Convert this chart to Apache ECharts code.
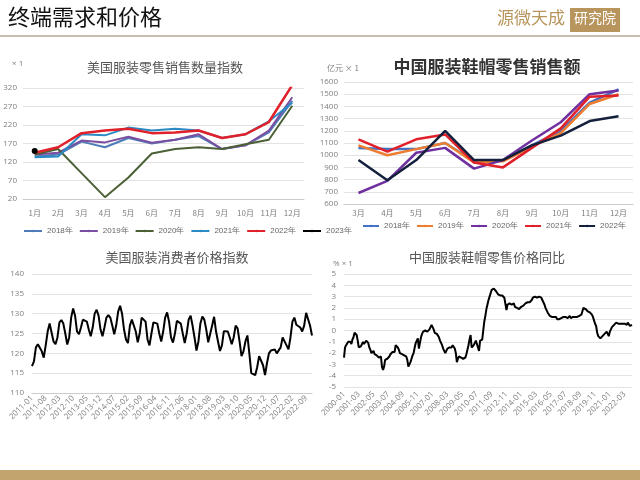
<!DOCTYPE html>
<html><head><meta charset="utf-8">
<script src="https://cdn.jsdelivr.net/npm/echarts@6/dist/echarts.min.js"></script>
<style>html,body{margin:0;padding:0;background:#fff}#c{width:640px;height:480px}</style>
</head><body><div id="c"></div>
<script>
// Top-left: US apparel retail volume index
const usMonths = ['1月','2月','3月','4月','5月','6月','7月','8月','9月','10月','11月','12月'];
const us2018 = [135,140,175,160,185,170,180,190,155,165,200,285];
const us2019 = [140,145,178,173,188,172,180,195,155,165,205,295];
const us2020 = [140,155,90,25,78,143,155,160,155,168,180,272];
const us2021 = [133,135,195,192,213,205,210,205,185,195,230,280];
const us2022 = [145,160,198,205,210,198,200,205,185,195,228,328];
const us2023 = [150];
// Top-right: China apparel retail sales
const cnMonths = ['3月','4月','5月','6月','7月','8月','9月','10月','11月','12月'];
const cn2018 = [1060,1050,1050,1100,950,960,1080,1200,1430,1540];
const cn2019 = [1080,1000,1050,1100,940,950,1070,1180,1420,1500];
const cn2020 = [690,790,1020,1060,890,960,1120,1270,1500,1530];
const cn2021 = [1130,1030,1130,1170,940,900,1060,1220,1480,1490];
const cn2022 = [960,795,960,1200,960,960,1080,1160,1280,1320];
// Bottom-left: US apparel CPI, monthly 2011-01..2022-12
const cpi = [
116.8,118,121.5,122.3,122,120.5,118.9,122,125.5,127.5,127.2,123,
122.3,124,127.8,128.4,127.5,125,122.2,124,129,131.3,129.5,125.5,
124.8,126.5,128.5,128.9,128,126,124.3,126.5,130,131,129.5,126,
124.3,126.5,129,129.6,129,127,124.8,127,130.5,132,130,126,
123.5,122.6,127,128.5,128,125.5,122.8,125,129,129.5,128,123.5,
122,125,127.8,128,127.5,125,123,125.5,129,130.3,128,124,
122.7,125,128.2,128.4,127.5,125,122.6,125,128.5,129.5,127,124,
120.7,123,127.5,129.3,128.5,126,122.8,122.5,127,129.2,125.5,123,
120.6,122,125.6,125.8,125.5,124,122.3,124,127,126.3,123,119.3,
120.5,123,124.5,120,115,114.6,114.5,116.5,119.3,119.3,117,114.5,
117.5,120,120.7,120.8,121,120,119.5,121.5,124,124.3,122,121,
124,128,129,127.2,127,126.5,125.5,127,130.2,129.7,127,124.5];
// Bottom-right: China apparel price YoY, monthly 2000-01..2022-10
const yoy = [
-2.4,-1.5,-1.3,-1.2,-1.0,-1.0,-1.0,-1.2,-0.8,-0.6,-0.2,-0.1,
-0.4,-0.9,-1.5,-1.6,-1.4,-1.2,-1.0,-1.2,-1.3,-0.9,-1.0,-1.1,
-1.5,-1.7,-2.0,-1.9,-1.8,-2.1,-2.1,-2.2,-2.3,-2.4,-2.5,-2.3,
-3.2,-3.5,-3.2,-2.6,-2.6,-2.5,-2.4,-2.3,-2.1,-2.0,-1.9,-1.8,
-1.9,-1.3,-1.4,-1.5,-1.7,-2.0,-2.1,-2.1,-2.2,-2.2,-2.3,-2.3,
-2.6,-3.2,-3.0,-2.8,-2.5,-2.2,-2.0,-1.5,-1.1,-0.9,-0.7,-1.6,
-1.1,-0.6,-0.3,-0.1,0.0,0.0,0.0,-0.1,0.0,0.1,0.3,0.5,
0.3,0.1,-0.2,-0.2,-0.3,-0.3,-0.6,-0.9,-1.1,-1.3,-1.6,-1.8,
-2.0,-1.8,-1.6,-1.5,-1.5,-1.6,-1.5,-1.3,-1.4,-1.6,-2.0,-2.8,
-2.5,-2.3,-2.4,-2.4,-2.4,-2.5,-2.6,-2.4,-2.1,-1.7,-1.3,-0.8,
-0.4,-1.5,-1.4,-1.3,-1.1,-0.9,-1.2,-1.5,-1.8,-0.9,-0.8,-0.8,
0.0,0.8,1.3,1.9,2.3,2.7,3.0,3.3,3.6,3.5,3.7,3.6,
3.5,3.4,3.2,3.3,3.1,3.0,3.1,3.0,2.9,2.9,1.8,2.3,
2.2,2.4,2.5,2.3,2.2,2.4,2.1,2.2,2.0,2.1,1.9,1.9,
2.1,2.2,2.2,2.3,2.4,2.4,2.5,2.6,2.5,2.6,2.7,2.9,
3.0,3.0,2.9,2.9,2.9,3.0,2.9,2.9,2.7,2.5,2.3,2.0,
1.8,1.6,1.5,1.3,1.2,1.2,1.1,1.2,1.2,1.2,1.0,0.9,
1.0,1.0,1.1,1.1,1.2,1.2,1.2,1.1,1.1,1.2,1.3,1.1,
1.1,1.2,1.2,1.2,1.2,1.2,1.2,1.3,1.3,1.4,1.7,2.0,
1.9,1.9,1.8,1.7,1.7,1.6,1.6,1.4,1.2,0.9,0.6,0.4,
-0.2,-0.5,-0.6,-0.7,-0.6,-0.5,-0.4,-0.3,-0.3,-0.1,-0.2,-0.5,
-0.1,0.1,0.3,0.4,0.5,0.6,0.7,0.7,0.6,0.6,0.6,0.6,
0.6,0.5,0.6,0.5,0.5,0.7,0.6,0.4,0.5,0.5];

function monthCats(y0, n){const a=[];for(let i=0;i<n;i++){const y=y0+Math.floor(i/12),m=i%12+1;a.push(y+'-'+(m<10?'0':'')+m);}return a;}
const cpiCats = monthCats(2011, cpi.length);
const yoyCats = monthCats(2000, yoy.length);

const gridC='#e3e3e3', lab='#808080', F='"Noto Sans CJK SC"';
const tstyle={fontFamily:F,fontSize:13,color:'#555',fontWeight:'normal'};
const lbl={color:lab,fontSize:8,fontFamily:'"Open Sans"'};
const chart = echarts.init(document.getElementById('c'));
function line(name,data,color,xi,w){return {name,type:'line',data,xAxisIndex:xi,yAxisIndex:xi,symbol:'none',lineStyle:{color,width:w||2},itemStyle:{color},animation:false};}
chart.setOption({
  animation:false,
  graphic:[
    {type:'text',left:8,top:6,style:{text:'终端需求和价格',font:'22px "Noto Sans CJK SC"',fill:'#111'}},
    {type:'text',left:497,top:9,style:{text:'源微天成',font:'17px "Noto Sans CJK SC"',fill:'#b8955c'}},
    {type:'rect',left:570,top:8,shape:{width:50,height:24},style:{fill:'#b8955c'}},
    {type:'text',left:574,top:11,style:{text:'研究院',font:'14px "Noto Sans CJK SC"',fill:'#fff'}},
    {type:'rect',left:0,top:35,shape:{width:640,height:2},style:{fill:'#c8bfb0'}},
    {type:'rect',left:0,top:470,shape:{width:640,height:10},style:{fill:'#c2a56e'}},
    {type:'text',left:12,top:60,style:{text:'× 1',font:'8px "Open Sans"',fill:lab}},
    {type:'text',left:327,top:64,style:{text:'亿元 × 1',font:'8px "Noto Sans CJK SC"',fill:lab}},
    {type:'text',left:333,top:260,style:{text:'% × 1',font:'8px "Open Sans"',fill:lab}}
  ],
  title:[
    {text:'美国服装零售销售数量指数',left:160,top:56,textAlign:'center',textStyle:tstyle},
    {text:'中国服装鞋帽零售销售额',left:482,top:53,textAlign:'center',textStyle:{...tstyle,fontSize:17,fontWeight:'bold',color:'#333'}},
    {text:'美国服装消费者价格指数',left:172,top:246,textAlign:'center',textStyle:tstyle},
    {text:'中国服装鞋帽零售价格同比',left:482,top:246,textAlign:'center',textStyle:tstyle}
  ],
  legend:[
    {data:['2018年','2019年','2020年','2021年','2022年','2023年'],left:18,top:222,itemWidth:18,itemHeight:3,itemGap:6,textStyle:{fontSize:8,color:'#666'},selectedMode:false},
    {data:['2018年 ','2019年 ','2020年 ','2021年 ','2022年 '],left:362,top:222,width:280,padding:0,itemWidth:16,itemHeight:3,itemGap:4,textStyle:{fontSize:8,color:'#666'},selectedMode:false}
  ],
  grid:[
    {left:23,right:336,top:88,height:111},
    {left:344,right:7,top:82,height:122},
    {left:32,right:328,top:274,height:119},
    {left:344,right:8,top:274,height:113}
  ],
  xAxis:[
    {gridIndex:0,type:'category',data:usMonths,axisLine:{lineStyle:{color:'#ccc'}},axisTick:{show:false},axisLabel:{...lbl,fontFamily:F,margin:10}},
    {gridIndex:1,type:'category',data:cnMonths,axisLine:{lineStyle:{color:'#ccc'}},axisTick:{show:false},axisLabel:{...lbl,fontFamily:F,margin:5}},
    {gridIndex:2,type:'category',data:cpiCats,boundaryGap:false,axisLine:{lineStyle:{color:'#ccc'}},axisTick:{show:false},axisLabel:{...lbl,rotate:45,interval:6,margin:4}},
    {gridIndex:3,type:'category',data:yoyCats,boundaryGap:false,axisLine:{show:false},axisTick:{show:false},axisLabel:{...lbl,rotate:45,interval:13,margin:6}}
  ],
  yAxis:[
    {gridIndex:0,type:'value',min:20,max:320,interval:50,axisLabel:{...lbl,margin:6},splitLine:{lineStyle:{color:gridC}}},
    {gridIndex:1,type:'value',min:600,max:1600,interval:100,axisLabel:{...lbl,margin:6,formatter:v=>String(v)},splitLine:{lineStyle:{color:gridC}}},
    {gridIndex:2,type:'value',min:110,max:140,interval:5,axisLabel:{...lbl,margin:8},splitLine:{lineStyle:{color:gridC}}},
    {gridIndex:3,type:'value',min:-5,max:5,interval:1,axisLabel:{...lbl,margin:8},splitLine:{lineStyle:{color:gridC}}}
  ],
  series:[
    line('2018年',us2018,'#4f7cb8',0),
    line('2019年',us2019,'#7a4ea0',0),
    line('2020年',us2020,'#4b6035',0),
    line('2021年',us2021,'#2a8ac4',0),
    {...line('2022年',us2022,'#e0202a',0,2.5)},
    {...line('2023年',us2023,'#000',0,2.5),symbol:'circle',symbolSize:6,showSymbol:true},
    line('2018年 ',cn2018,'#4472c4',1,2.5),
    line('2019年 ',cn2019,'#ed7d31',1,2.5),
    line('2020年 ',cn2020,'#7030a0',1,2.5),
    line('2021年 ',cn2021,'#e0202a',1,2.5),
    line('2022年 ',cn2022,'#14203c',1,2.5),
    line('cpi',cpi,'#000',2,2),
    line('yoy',yoy,'#000',3,2)
  ]
});
</script></body></html>
